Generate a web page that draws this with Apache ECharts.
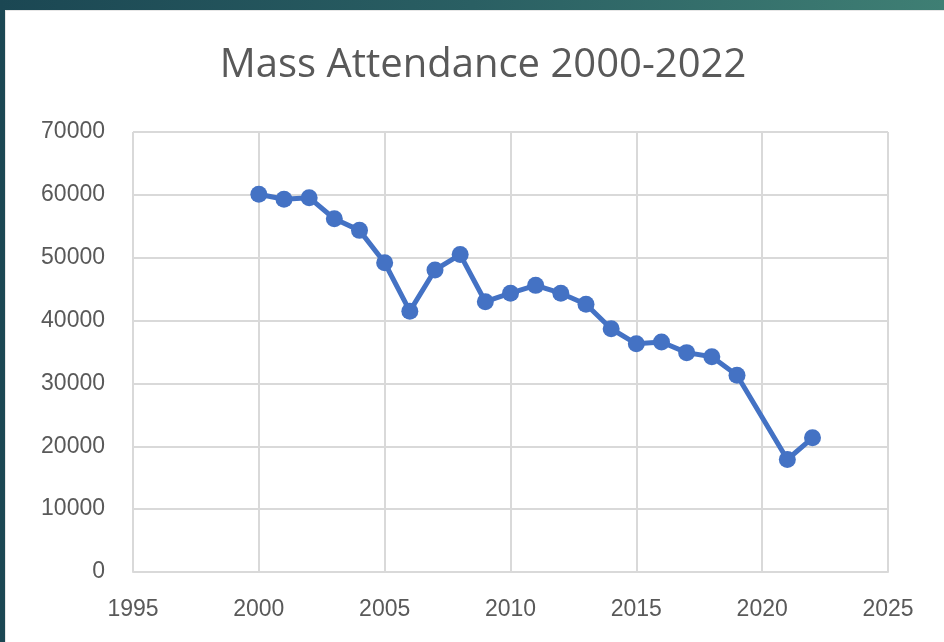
<!DOCTYPE html>
<html>
<head>
<meta charset="utf-8">
<script src="https://cdn.jsdelivr.net/npm/echarts@6/dist/echarts.min.js"></script>
<style>
  html, body { margin: 0; padding: 0; width: 944px; height: 642px; overflow: hidden; }
  body { background: linear-gradient(to right, #1b4753, #2a5f63 50%, #3f7f74); }
  #panel {
    position: absolute; left: 5px; top: 10px; width: 960px; height: 650px;
    background: #fff; border-top: 1px solid #e6e6e6; border-left: 1px solid #e6e6e6;
  }
</style>
</head>
<body>
<div id="panel"></div>
<script>
// attendance by year (2020 has no figure)
let years = [2000, 2001, 2002, 2003, 2004, 2005, 2006, 2007, 2008, 2009, 2010, 2011,
  2012, 2013, 2014, 2015, 2016, 2017, 2018, 2019, 2021, 2022];
let attendance = [60100, 59300, 59550, 56200, 54350, 49200, 41500, 48050, 50500, 43000, 44350, 45600,
  44350, 42600, 38700, 36300, 36600, 34900, 34250, 31300, 17900, 21350];

let chart = echarts.init(document.getElementById("panel"));
let labelFont = "'Liberation Sans Narrow', 'Liberation Sans', sans-serif";

let option = {
  animation: false,
  title: {
    text: "Mass Attendance 2000-2022",
    left: 472,
    textAlign: "center",
    top: 30,
    textStyle: {
      color: "#595959",
      fontFamily: "'Open Sans', sans-serif",
      fontWeight: "normal",
      fontSize: 40
    }
  },
  grid: {
    left: 127,
    right: 78,
    top: 121,
    bottom: 89
  },
  xAxis: {
    type: "value",
    min: 1995,
    max: 2025,
    interval: 5,
    axisLine: { show: true, lineStyle: { color: "#d9d9d9", width: 2 } },
    axisTick: { show: false },
    splitLine: { show: true, lineStyle: { color: "#d9d9d9", width: 2 } },
    axisLabel: {
      color: "#595959",
      fontFamily: labelFont,
      fontSize: 23,
      margin: 26,
      formatter: v => String(v)
    }
  },
  yAxis: {
    type: "value",
    min: 0,
    max: 70000,
    interval: 10000,
    axisLine: { show: false },
    axisTick: { show: false },
    splitLine: { lineStyle: { color: "#d9d9d9", width: 2 } },
    axisLabel: {
      color: "#595959",
      fontFamily: labelFont,
      fontSize: 23,
      margin: 28,
      formatter: v => String(v)
    }
  },
  series: [{
    name: "Mass Attendance",
    type: "line",
    data: years.map((y, i) => [y, attendance[i]]),
    symbol: "circle",
    symbolSize: 17,
    lineStyle: { color: "#4472c4", width: 5 },
    itemStyle: { color: "#4472c4" }
  }]
};
chart.setOption(option, true);
</script>
</body>
</html>
